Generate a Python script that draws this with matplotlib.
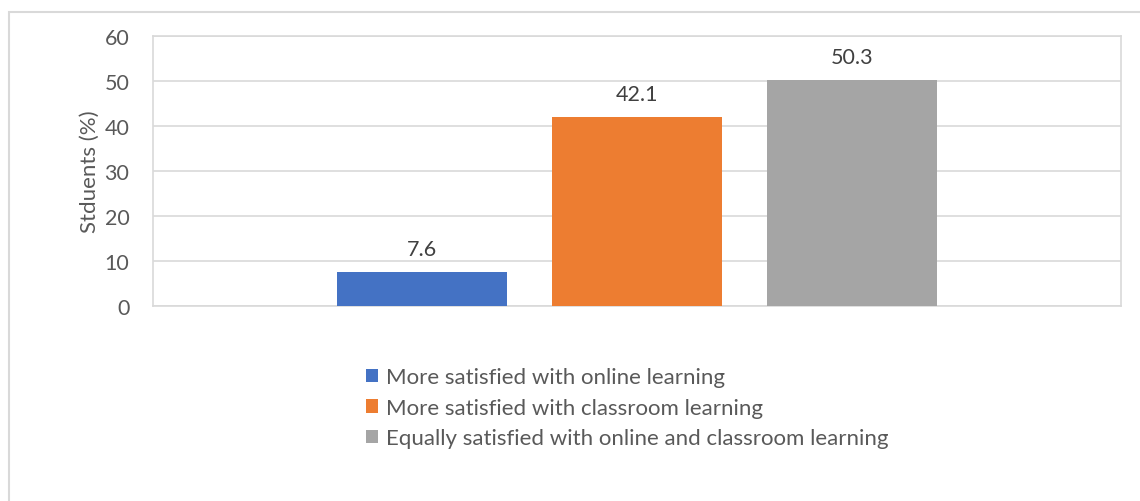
import matplotlib.pyplot as plt
from matplotlib.patches import Rectangle, Patch

series = ["More satisfied with online learning",
          "More satisfied with classroom learning",
          "Equally satisfied with online and classroom learning"]
values = [7.6, 42.1, 50.3]
colors = ["#4472C4", "#ED7D31", "#A5A5A5"]
yticks = [0, 10, 20, 30, 40, 50, 60]
ylabel = "Stduents (%)"

plt.rcParams['font.family'] = ['Lato', 'DejaVu Sans']
W, H = 1140, 502
fig = plt.figure(figsize=(W/100, H/100), dpi=100)
fig.patches.append(Rectangle((9/W, -0.1), 1.2, (H-13)/H + 0.1, transform=fig.transFigure,
                             fill=False, edgecolor="#d9d9d9", linewidth=1.5))
ax = fig.add_axes([153/W, 1-307/H, 968/W, 270/H])
txt = "#595959"
pos = [-1, 0, 1]
bw = 170/215
for p, v, c, s in zip(pos, values, colors, series):
    ax.bar(p, v, width=bw, color=c, label=s, zorder=3)
    ax.text(p, v + 2.8, f"{v:.1f}", ha="center", va="bottom", fontsize=15.5, color="#404040")
ax.set_xlim(-484/215, 484/215)
ax.set_ylim(0, 60)
ax.set_yticks(yticks)
ax.set_xticks([])
ax.grid(axis="y", color="#d9d9d9", linewidth=1.2, zorder=0)
for sp in ax.spines.values():
    sp.set_color("#d9d9d9")
    sp.set_linewidth(1.2)
ax.tick_params(axis="y", length=0, pad=17, labelsize=15.5, labelcolor=txt)
ax.set_ylabel(ylabel, fontsize=16, color=txt, labelpad=3)
handles = [Patch(facecolor=c, label=s) for c, s in zip(colors, series)]
fig.legend(handles=handles, loc="upper left", bbox_to_anchor=(355/W, 1-357/H),
           frameon=False, fontsize=16, labelcolor=txt, handlelength=0.55, handleheight=0.55,
           handletextpad=0.35, labelspacing=0.48, borderpad=0)
fig.savefig("out.png", dpi=100)
